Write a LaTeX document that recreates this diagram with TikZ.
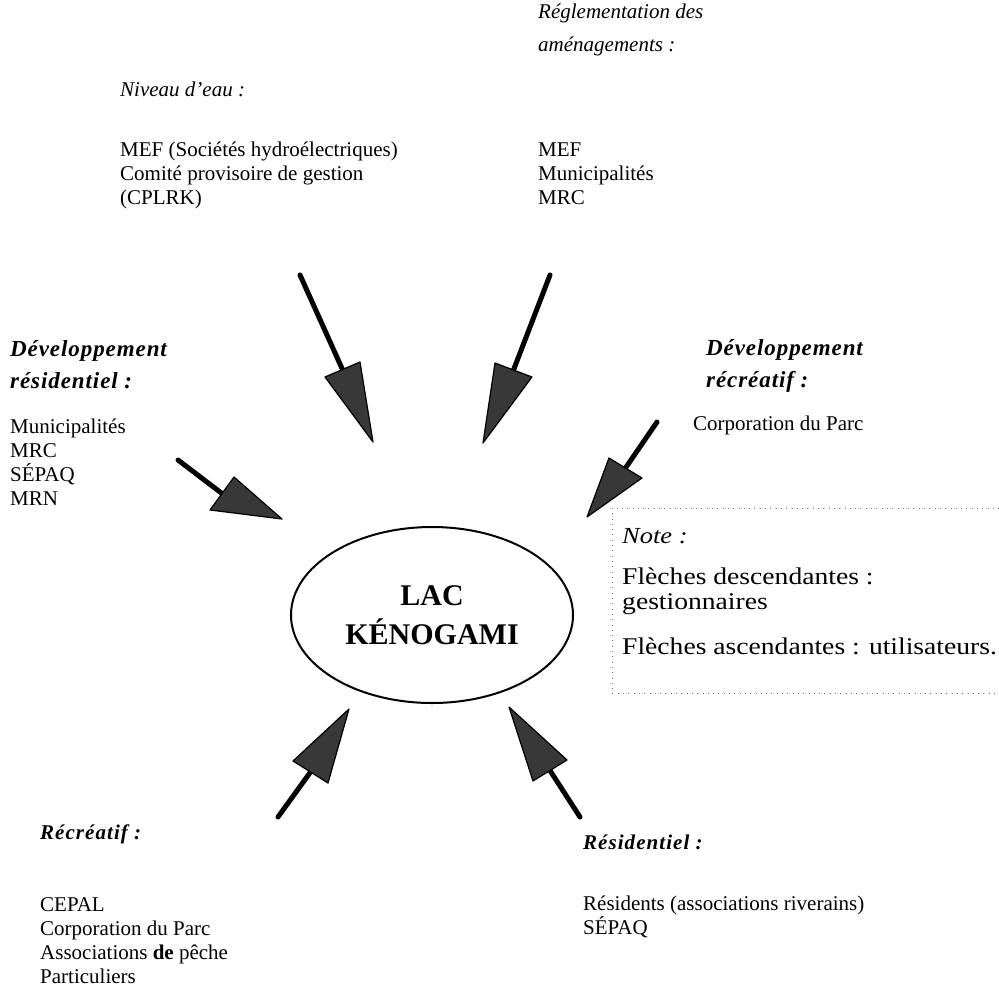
\documentclass[tikz,border=0pt]{standalone}
\usepackage{fontspec}
\setmainfont{Liberation Serif}
\newfontfamily\hdfont[LetterSpace=5]{Liberation Serif}
\newfontfamily\hdwidefont[LetterSpace=4]{Liberation Serif}
\newfontfamily\notefont[FakeStretch=1.15]{Liberation Serif}
\usetikzlibrary{shapes.geometric,calc}
\tikzset{
  txt/.style={anchor=base west, align=left, inner sep=0pt, font=\fontsize{21}{24}\selectfont},
  hd/.style={anchor=base west, align=left, inner sep=0pt, font=\fontsize{21}{33}\selectfont\itshape},
  hdb/.style={anchor=base west, align=left, inner sep=0pt, font=\fontsize{21}{32}\hdfont\bfseries\itshape},
  hdw/.style={anchor=base west, align=left, inner sep=0pt, font=\fontsize{23}{32}\hdwidefont\bfseries\itshape},
  notetxt/.style={anchor=base west, align=left, inner sep=0pt, font=\fontsize{24}{25}\notefont},
  shaft/.style={line width=5pt, draw=black, line cap=round},
  head/.style={fill=black!78, draw=black, line width=1.2pt, line join=round},
  dotframe/.style={draw=black!55, line width=0.8pt, dash pattern=on 0.8pt off 4.5pt}
}
\begin{document}
\begin{tikzpicture}[x=1pt,y=-1pt]
\useasboundingbox (0,0) rectangle (999,1002);

% headers and lists (anchor = baseline of the last line)
\node[hd] (h1) at (120,96) {Niveau d'eau :};
\node[txt] (l1) at (120,204) {MEF (Sociétés hydroélectriques)\\Comité provisoire de gestion\\(CPLRK)};
\node[hd] (h2) at (538,51) {Réglementation des\\aménagements :};
\node[txt] (l2) at (538,204) {MEF\\Municipalités\\MRC};
\node[hdw] (h3) at (10,388) {Développement\\résidentiel :};
\node[txt] (l3) at (10,505) {Municipalités\\MRC\\SÉPAQ\\MRN};
\node[hdw] (h4) at (706,387) {Développement\\récréatif :};
\node[txt] (l4) at (693,430) {Corporation du Parc};
\node[hdb] (h5) at (40,839) {Récréatif :};
\node[txt] (l5) at (40,983) {CEPAL\\Corporation du Parc\\Associations \textbf{de} pêche\\Particuliers};
\node[hdb] (h6) at (583,849) {Résidentiel :};
\node[txt] (l6) at (583,934) {Résidents (associations riverains)\\SÉPAQ};

% centre
\node[draw, ellipse, line width=2pt, minimum width=282pt, minimum height=176pt, inner sep=0pt,
      align=center, font=\fontsize{30}{39}\selectfont\bfseries] (lac) at (432,615) {LAC\\KÉNOGAMI};

% note
\draw[dotframe] (999,508) -- (612,508) -- (612,693) -- (999,693);
\node[notetxt, font=\fontsize{23}{25}\notefont\itshape] (n0) at (622,543) {Note :};
\node[notetxt] (n1) at (622,609) {Flèches descendantes :\\gestionnaires};
\node[notetxt] (n2) at (622,654) {Flèches ascendantes : utilisateurs.};

% arrows: start, base corners, tip
\coordinate (s1) at (300,275); \coordinate (a1) at (325,377); \coordinate (b1) at (360,362); \coordinate (t1) at (373,442);
\coordinate (s2) at (550,275); \coordinate (a2) at (495,363); \coordinate (b2) at (532,377); \coordinate (t2) at (483,443);
\coordinate (s3) at (178,460); \coordinate (a3) at (234,477); \coordinate (b3) at (210,510); \coordinate (t3) at (282,519);
\coordinate (s4) at (657,422); \coordinate (a4) at (609,458); \coordinate (b4) at (642,478); \coordinate (t4) at (587,517);
\coordinate (s5) at (278,817); \coordinate (a5) at (293,761); \coordinate (b5) at (328,783); \coordinate (t5) at (349,709);
\coordinate (s6) at (580,817); \coordinate (a6) at (533,781); \coordinate (b6) at (567,760); \coordinate (t6) at (509,707);
\foreach \i in {1,...,6}{
  \draw[shaft] (s\i) -- ($(a\i)!0.5!(b\i)$);
  \filldraw[head] (a\i) -- (t\i) -- (b\i) -- cycle;
}
\end{tikzpicture}
\end{document}
